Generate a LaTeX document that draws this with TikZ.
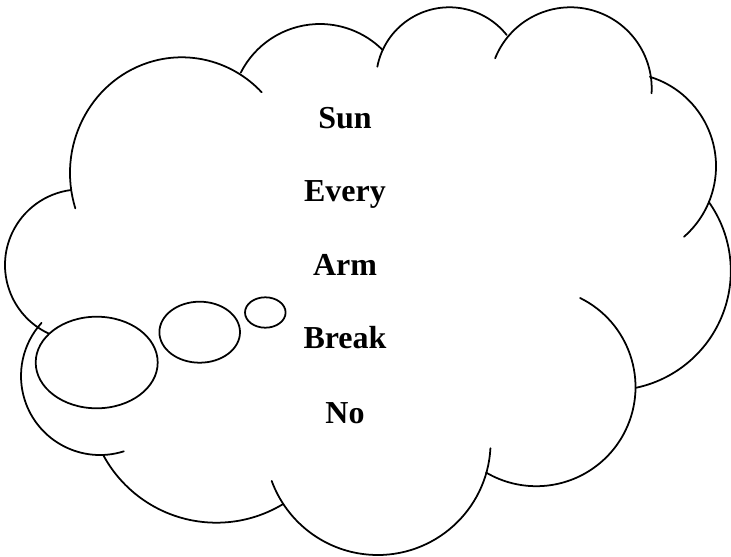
\documentclass[tikz,border=0pt]{standalone}
\usepackage{fontspec}
\setmainfont{Liberation Serif}
\usetikzlibrary{positioning}
\tikzset{
  cloud line/.style={draw=black,line width=1.5pt,line cap=round},
  bubble/.style={draw=black,fill=white,line width=1.5pt},
  word/.style={font=\bfseries\fontsize{27.3}{32}\selectfont,text=black,inner sep=0pt,anchor=base}
}

\begin{document}
\begin{tikzpicture}[x=0.03cm,y=-0.03cm]
  \path[use as bounding box] (0,0) rectangle (731,556);
  \fill[white] (0,0) rectangle (731,556);

  % Cloud outline, one arc per lobe, clockwise from the upper left.
  \draw[cloud line] (181.7,173) ++(162.2:111.7 and 115.7)
    arc[start angle=162.2,end angle=315.8,x radius=111.7,y radius=115.7];
  \draw[cloud line] (319.9,112.7) ++(206.8:88.7 and 88.7)
    arc[start angle=206.8,end angle=315,x radius=88.7,y radius=88.7];
  \draw[cloud line] (449.3,80.6) ++(190.9:73.3 and 73.3)
    arc[start angle=190.9,end angle=321.5,x radius=73.3,y radius=73.3];
  \draw[cloud line] (570.5,88.5) ++(201.8:81.2 and 81.2)
    arc[start angle=201.8,end angle=363.4,x radius=81.2,y radius=81.2];
  \draw[cloud line] (622.4,166.3) ++(287.1:93.6 and 93.6)
    arc[start angle=287.1,end angle=408.8,x radius=93.6,y radius=93.6];
  \draw[cloud line] (611.5,271) ++(324.6:119.3 and 119.3)
    arc[start angle=324.6,end angle=438,x radius=119.3,y radius=119.3];
  \draw[cloud line] (536.3,387) ++(296.2:99.2 and 99.2)
    arc[start angle=296.2,end angle=480.4,x radius=99.2,y radius=99.2];
  \draw[cloud line] (377.7,442.1) ++(3.1:112.9 and 112.9)
    arc[start angle=3.1,end angle=159.9,x radius=112.9,y radius=112.9];
  \draw[cloud line] (216.4,394.2) ++(58.9:128.5 and 128.5)
    arc[start angle=58.9,end angle=151.7,x radius=128.5,y radius=128.5];
  \draw[cloud line] (100,376) ++(72.4:79 and 79)
    arc[start angle=72.4,end angle=222.3,x radius=79,y radius=79];
  \draw[cloud line] (80.6,265) ++(115.3:75.6 and 75.6)
    arc[start angle=115.3,end angle=262.5,x radius=75.6,y radius=75.6];

  % Thought bubbles.
  \draw[bubble] (96.7,362.5) ellipse[x radius=61,y radius=45.8];
  \draw[bubble] (199.7,332.2) ellipse[x radius=40.3,y radius=30.5];
  \draw[bubble] (265.3,312.5) ellipse[x radius=20.3,y radius=15.2];

  % Words.
  \node[word] (sun)   at (345,128.3) {Sun};
  \node[word] (every) at (345,201.7) {Every};
  \node[word] (arm)   at (345,275)   {Arm};
  \node[word] (break) at (345,348.3) {Break};
  \node[word] (no)    at (345,423.3) {No};
\end{tikzpicture}
\end{document}
